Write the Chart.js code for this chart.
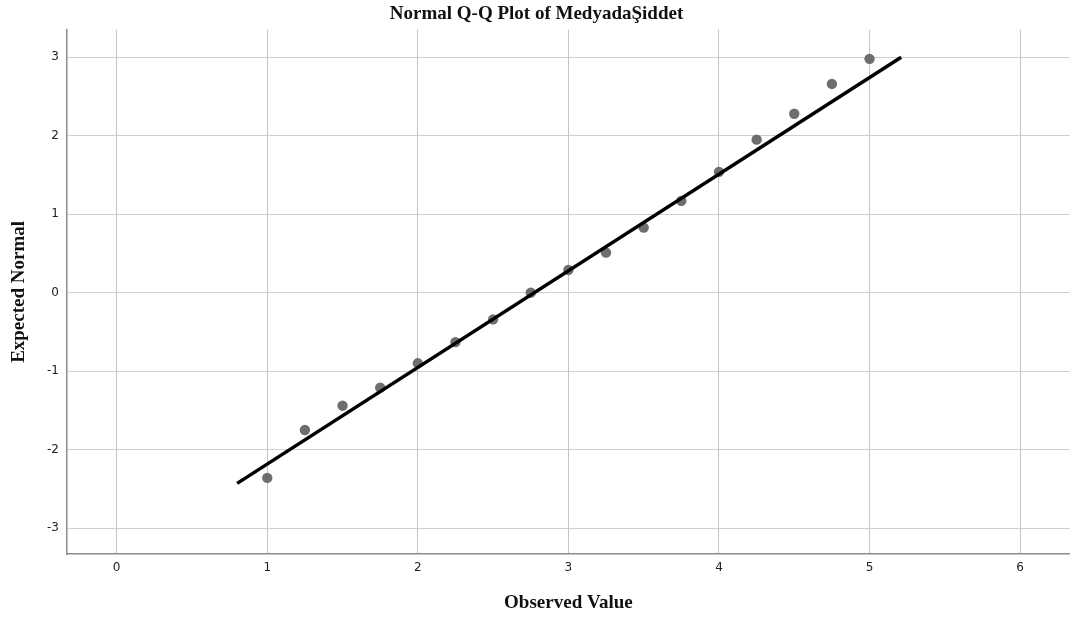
<!DOCTYPE html>
<html>
<head>
<meta charset="utf-8">
<script src="https://cdn.jsdelivr.net/npm/chart.js@4/dist/chart.umd.min.js"></script>
<style>
  html, body { margin: 0; padding: 0; background: #ffffff; }
  #wrap { width: 1075px; height: 621px; }
</style>
</head>
<body>
<div id="wrap"><canvas id="c" width="1075" height="621"></canvas></div>
<script>
// Observed values and their expected normal quantiles
const observed = [1, 1.25, 1.5, 1.75, 2, 2.25, 2.5, 2.75, 3, 3.25, 3.5, 3.75, 4, 4.25, 4.5, 4.75, 5];
const expectedNormal = [-2.36, -1.75, -1.44, -1.21, -0.90, -0.63, -0.34, 0.00, 0.29, 0.51, 0.83, 1.17, 1.54, 1.95, 2.28, 2.66, 2.98];
// Reference line endpoints
const lineX = [0.80, 5.21];
const lineY = [-2.43, 3.00];
// Tick labels
const xTicks = [0, 1, 2, 3, 4, 5, 6];
const yTicks = [-3, -2, -1, 0, 1, 2, 3];

const pointData = observed.map((x, i) => ({ x: x, y: expectedNormal[i] }));
const lineData = lineX.map((x, i) => ({ x: x, y: lineY[i] }));

const tickFont = { family: 'DejaVu Sans', size: 12 };
const titleFont = { family: 'Liberation Serif', size: 19, weight: 'bold' };

new Chart(document.getElementById('c'), {
  type: 'scatter',
  data: {
    datasets: [
      {
        label: 'Line',
        data: lineData,
        showLine: true,
        borderColor: '#000000',
        borderWidth: 3.5,
        pointRadius: 0,
        fill: false,
        order: 0
      },
      {
        label: 'Observed',
        data: pointData,
        backgroundColor: '#6e6e6e',
        borderColor: '#6e6e6e',
        borderWidth: 0,
        pointRadius: 5.2,
        order: 1
      }
    ]
  },
  options: {
    responsive: false,
    animation: false,
    layout: { padding: { left: 0, right: 2, top: 0, bottom: 0 } },
    plugins: {
      legend: { display: false },
      tooltip: { enabled: false },
      title: {
        display: true,
        text: 'Normal Q-Q Plot of MedyadaŞiddet',
        color: '#111111',
        font: titleFont,
        padding: { top: 3, bottom: 4 }
      }
    },
    scales: {
      x: {
        type: 'linear',
        min: -0.33,
        max: 6.33,
        afterBuildTicks: (s) => { s.ticks = xTicks.map(v => ({ value: v })); },
        afterFit: (s) => { s.height = 67; },
        grid: { color: '#c4c4c4', lineWidth: 1, drawTicks: false },
        border: { display: true, color: '#8c8c8c', width: 1.5 },
        ticks: { font: tickFont, color: '#222222', padding: 7, maxRotation: 0, autoSkip: false },
        title: { display: true, text: 'Observed Value', color: '#111111', font: titleFont, padding: { top: 0, bottom: 7 } }
      },
      y: {
        type: 'linear',
        min: -3.33,
        max: 3.35,
        afterBuildTicks: (s) => { s.ticks = yTicks.map(v => ({ value: v })); },
        afterFit: (s) => { s.width = 67; },
        grid: { color: '#cfcfcf', lineWidth: 1, drawTicks: false },
        border: { display: true, color: '#8c8c8c', width: 1.5 },
        ticks: { font: tickFont, color: '#222222', padding: 8, autoSkip: false },
        title: { display: true, text: 'Expected Normal', color: '#111111', font: titleFont, padding: { top: 8, bottom: 0 } }
      }
    }
  }
});
</script>
</body>
</html>
